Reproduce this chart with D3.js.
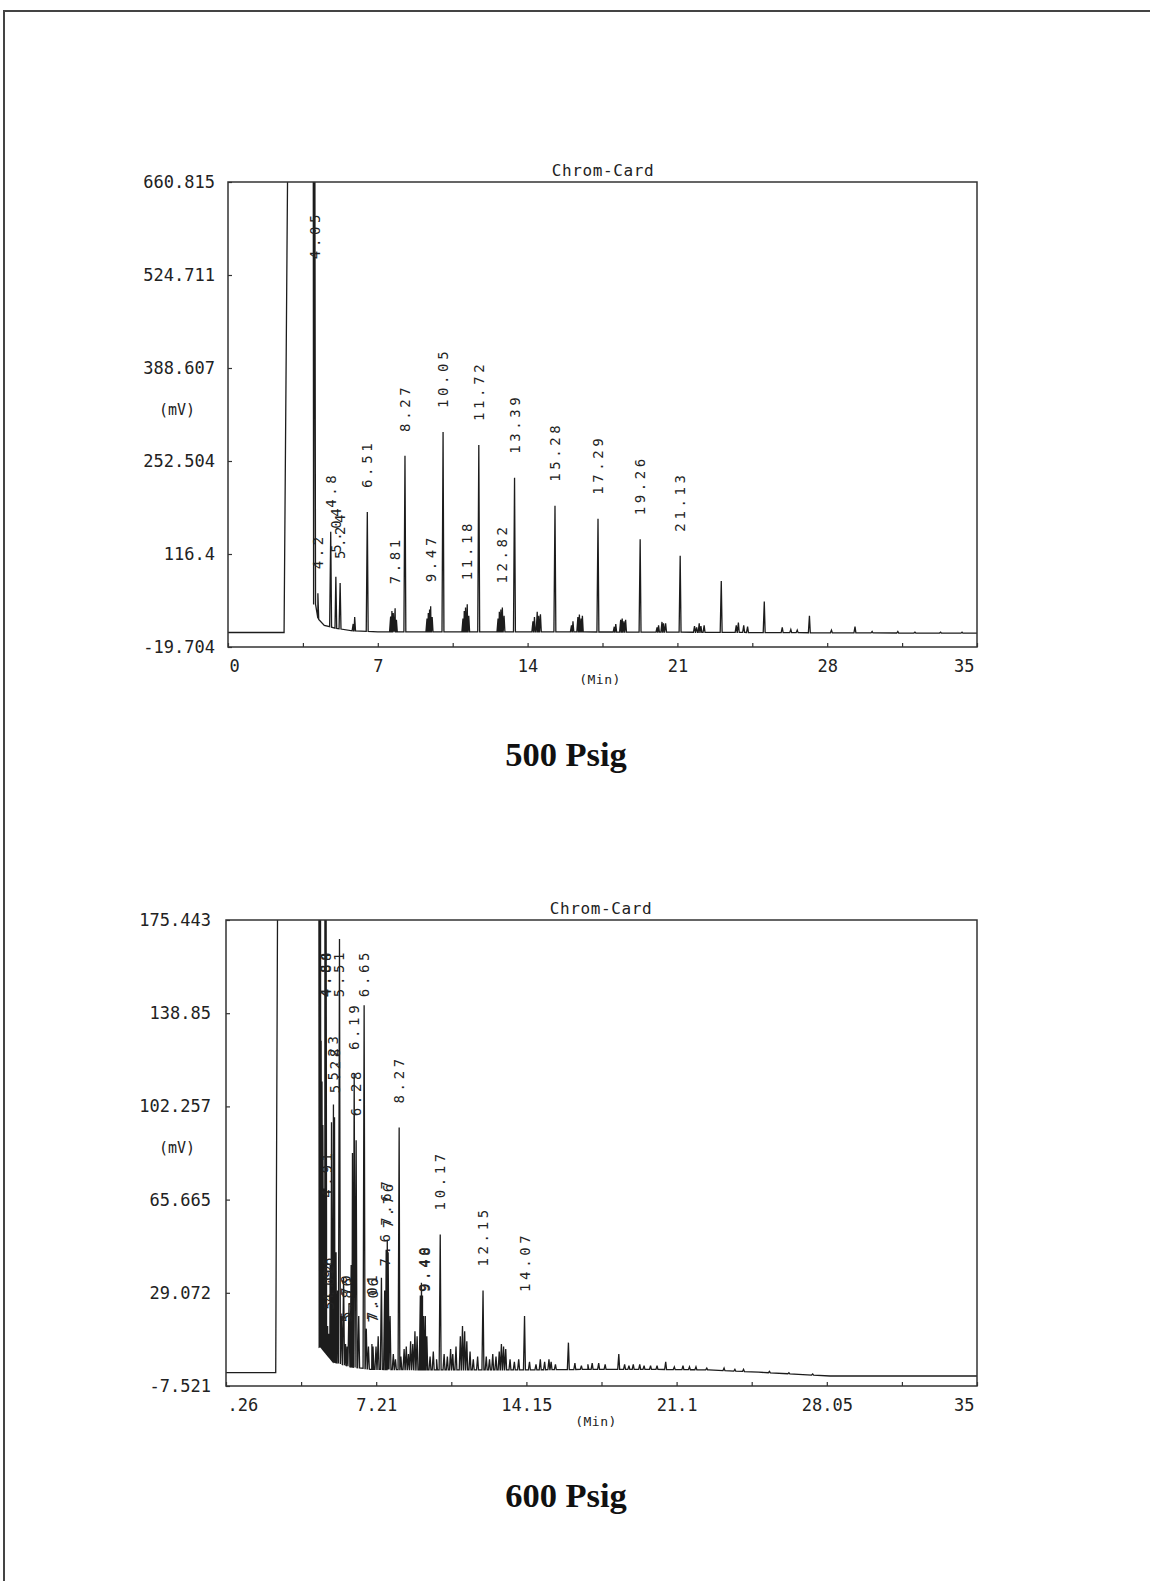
<!DOCTYPE html>
<html>
<head>
<meta charset="utf-8">
<script src="https://cdn.jsdelivr.net/npm/d3@7"></script>
<style>
  html, body { margin: 0; padding: 0; background: #fff; }
  svg { display: block; }
  .mono { font-family: "DejaVu Sans Mono", "Liberation Mono", monospace; fill: #222; }
  .caption { font-family: "Liberation Serif", "Times New Roman", serif; font-weight: bold; fill: #111; }
</style>
</head>
<body>
<svg id="page" width="1150" height="1581"></svg>
<script>
// ---------- 500 Psig run ----------
const xTicks500 = [0, 3.5, 7, 10.5, 14, 17.5, 21, 24.5, 28, 31.5, 35];
const xTickLabels500 = ["0", "7", "14", "21", "28", "35"];
const yTicks500 = [-19.704, 116.4, 252.504, 388.607, 524.711, 660.815];
const yTickLabels500 = ["-19.704", "116.4", "252.504", "388.607", "524.711", "660.815"];
// baseline drift [min, mV]
const baseline500 = [[0, 1.5], [2.6, 1.5], [4.08, 45], [4.2, 22], [4.5, 12], [5.0, 8], [5.8, 4],
  [7, 2.5], [14, 2.5], [21, 2], [28, 1], [35, 0.5]];
// solvent front, saturating the detector
const solvent500 = [[2.62, 1.5], [2.84, 900], [3.98, 900]];
// peaks [retention time (min), height (mV), printed label]
const peaks500 = [
  [4.05, 900, "4.05"], [4.2, 59, "4.2"], [4.8, 149, "4.8"], [5.04, 83, "5.04"], [5.24, 74, "5.24"],
  [5.85, 14], [5.92, 24], [6.51, 178, "6.51"],
  [7.6, 25], [7.66, 33], [7.72, 30], [7.81, 37, "7.81"], [7.87, 20],
  [8.27, 260, "8.27"],
  [9.3, 22], [9.36, 30], [9.42, 35], [9.47, 40, "9.47"], [9.54, 24],
  [10.05, 295, "10.05"],
  [10.98, 22], [11.04, 33], [11.1, 38], [11.18, 43, "11.18"], [11.25, 26],
  [11.72, 276, "11.72"],
  [12.62, 22], [12.68, 32], [12.75, 35], [12.82, 38, "12.82"], [12.9, 26],
  [13.39, 228, "13.39"],
  [14.25, 18], [14.32, 24], [14.45, 32], [14.52, 26], [14.6, 28],
  [15.28, 187, "15.28"],
  [16.05, 12], [16.12, 18], [16.35, 24], [16.42, 28], [16.5, 22], [16.56, 26],
  [17.29, 168, "17.29"],
  [18.05, 10], [18.12, 14], [18.35, 20], [18.42, 22], [18.5, 18], [18.58, 20],
  [19.26, 138, "19.26"],
  [20.05, 9], [20.12, 12], [20.28, 17], [20.35, 15], [20.45, 15],
  [21.13, 114, "21.13"],
  [21.8, 11], [21.9, 9], [22.02, 15], [22.1, 11], [22.25, 12],
  [23.05, 77],
  [23.75, 12], [23.85, 16], [24.1, 12], [24.28, 10],
  [25.06, 47],
  [25.9, 9], [26.3, 6], [26.6, 5],
  [27.17, 26],
  [28.2, 5], [29.3, 10], [30.1, 3], [31.3, 3], [32.1, 2], [33.3, 2], [34.3, 2]
];

// ---------- 600 Psig run ----------
const xTicks600 = [0.26, 3.734, 7.208, 10.682, 14.156, 17.63, 21.104, 24.578, 28.052, 31.526, 35];
const xTickLabels600 = [".26", "7.21", "14.15", "21.1", "28.05", "35"];
const yTicks600 = [-7.521, 29.072, 65.665, 102.257, 138.85, 175.443];
const yTickLabels600 = ["-7.521", "29.072", "65.665", "102.257", "138.85", "175.443"];
const baseline600 = [[0.26, -2.3], [2.5, -2.3], [4.62, 8], [5.2, 2], [6, 0], [7, -1], [10, -1.2],
  [14, -1.2], [17, -1], [20, -1], [22.6, -1.2], [24.9, -2.1], [28.2, -3.6], [35, -3.6]];
const solvent600 = [[2.56, -2.3], [2.7, 300], [4.55, 300]];
const peaks600 = [
  [4.62, 300], [4.66, 128], [4.7, 112], [4.74, 95], [4.78, 70],
  [4.84, 300, "4.84"], [4.88, 260, "4.88"], [4.91, 57, "4.91"], [4.96, 16, "4.96"], [5.02, 13, "5.02"],
  [5.08, 40], [5.14, 96], [5.23, 103, "5.23"], [5.28, 98, "5.28"], [5.35, 45], [5.42, 30],
  [5.51, 168, "5.51"], [5.6, 20], [5.7, 35], [5.79, 9, "5.79"], [5.86, 8, "5.86"], [5.95, 25], [6.05, 40],
  [6.11, 84], [6.19, 115, "6.19"], [6.28, 89, "6.28"], [6.4, 20],
  [6.65, 142, "6.65"], [6.75, 15], [6.85, 8], [7.01, 9, "7.01"], [7.06, 8, "7.06"], [7.2, 8], [7.3, 12],
  [7.45, 35], [7.6, 30, "7.6"], [7.67, 46, "7.67"], [7.72, 50], [7.76, 45, "7.76"], [7.85, 20],
  [8.0, 5], [8.1, 3], [8.27, 94, "8.27"], [8.35, 4], [8.5, 7], [8.6, 8], [8.7, 5], [8.8, 10], [8.9, 9],
  [9.0, 14], [9.1, 12],
  [9.25, 28], [9.3, 33], [9.35, 28], [9.4, 20, "9.40"], [9.48, 20, "9.48"], [9.55, 12],
  [9.7, 4], [9.85, 6], [10.0, 3],
  [10.17, 52, "10.17"],
  [10.35, 5], [10.5, 4], [10.65, 7], [10.75, 5], [10.9, 8],
  [11.1, 12], [11.2, 16], [11.3, 14], [11.4, 10], [11.55, 6], [11.7, 3], [11.9, 4],
  [12.15, 30, "12.15"],
  [12.3, 4], [12.45, 3], [12.6, 5], [12.75, 4], [12.9, 6], [13.0, 9], [13.1, 8], [13.2, 7],
  [13.4, 3], [13.6, 2], [13.8, 3],
  [14.07, 20, "14.07"],
  [14.3, 2], [14.6, 1], [14.8, 3], [15.0, 2], [15.2, 3], [15.3, 2], [15.5, 1],
  [16.1, 9.5], [16.4, 1.5], [16.7, 0.5], [17.0, 1], [17.2, 1.5], [17.5, 1.5], [17.8, 1],
  [18.43, 5], [18.7, 1], [18.9, 0.5], [19.1, 1], [19.4, 1], [19.6, 0.5], [19.9, 0.5], [20.2, 0.5],
  [20.6, 2], [21.0, 0], [21.4, 0.5], [21.7, 0], [22.0, 0], [22.5, -0.5], [23.3, -0.5], [23.8, -1],
  [24.2, -1], [25.4, -1.8], [26.3, -2.3], [27.4, -2.8]
];

const svg = d3.select("#page");

// page border
svg.append("path")
  .attr("d", "M4,1581V11H1150")
  .attr("fill", "none").attr("stroke", "#444").attr("stroke-width", 2);

function drawRun(cfg, id) {
  const x = d3.scaleLinear().domain(cfg.xDomain).range([cfg.left, cfg.right]);
  const y = d3.scaleLinear().domain(cfg.yDomain).range([cfg.bottom, cfg.top]);
  const foot = d3.scaleLinear().domain(cfg.baseline.map(d => d[0])).range(cfg.baseline.map(d => d[1])).clamp(true);

  // trace points: baseline + solvent front + one narrow spike per peak
  let pts = cfg.baseline.map(d => [d[0], d[1]])
    .filter(d => d[0] < cfg.solvent[0][0] || d[0] > cfg.peaks[0][0] + 0.03);
  pts = pts.concat(cfg.solvent);
  cfg.peaks.forEach(p => {
    const t = p[0], h = p[1];
    pts.push([t - 0.05, foot(t - 0.05)], [t, h], [t + 0.04, foot(t + 0.04)]);
  });
  pts.sort((a, b) => a[0] - b[0]);

  svg.append("clipPath").attr("id", id)
    .append("rect").attr("x", cfg.left).attr("y", cfg.top)
    .attr("width", cfg.right - cfg.left).attr("height", cfg.bottom - cfg.top);

  const line = d3.line().x(d => x(d[0])).y(d => y(d[1]));
  svg.append("path").datum(pts)
    .attr("clip-path", `url(#${id})`)
    .attr("d", line)
    .attr("fill", "none").attr("stroke", "#1c1c1c").attr("stroke-width", 1.3)
    .attr("stroke-linejoin", "miter");

  // frame
  svg.append("rect")
    .attr("x", cfg.left).attr("y", cfg.top)
    .attr("width", cfg.right - cfg.left).attr("height", cfg.bottom - cfg.top)
    .attr("fill", "none").attr("stroke", "#333").attr("stroke-width", 1.5);

  // axes
  const xAxis = d3.axisBottom(x).tickValues(cfg.xTicks).tickSize(-4).tickSizeOuter(0).tickPadding(13)
    .tickFormat((d, i) => i % 2 === 0 ? cfg.xTickLabels[i / 2] : "");
  const gx = svg.append("g").attr("transform", `translate(0,${cfg.bottom})`).call(xAxis);
  const yAxis = d3.axisLeft(y).tickValues(cfg.yTicks).tickSize(-4).tickSizeOuter(0).tickPadding(cfg.yPad)
    .tickFormat((d, i) => cfg.yTickLabels[i]);
  const gy = svg.append("g").attr("transform", `translate(${cfg.left},0)`).call(yAxis);
  [gx, gy].forEach(g => {
    g.select(".domain").remove();
    g.selectAll(".tick line").attr("stroke", "#333").attr("stroke-width", 1.2);
    g.selectAll("text").attr("class", "mono").style("font-size", "17px").attr("fill", "#222");
  });
  const xt = gx.selectAll(".tick text");
  const n = cfg.xTicks.length;
  xt.filter((d, i) => i === 0).attr("text-anchor", "start").attr("dx", 1);
  xt.filter((d, i) => i === n - 1).attr("text-anchor", "end").attr("dx", -3);

  // header and axis names
  svg.append("text").attr("class", "mono").attr("x", cfg.titleX).attr("y", cfg.top - 6)
    .attr("text-anchor", "middle").style("font-size", "16px").style("letter-spacing", "0.6px").text("Chrom-Card");
  svg.append("text").attr("class", "mono").attr("x", 177).attr("y", cfg.mvY)
    .attr("text-anchor", "middle").style("font-size", "15px").text("(mV)");
  svg.append("text").attr("class", "mono").attr("x", cfg.minX).attr("y", cfg.minY)
    .attr("text-anchor", "middle").style("font-size", "13px").style("letter-spacing", "0.5px").text("(Min)");

  // peak retention-time labels, written upward above each apex
  const lab = svg.append("g");
  cfg.peaks.filter(p => p[2]).forEach(p => {
    const t = lab.append("text").attr("class", "mono")
      .style("font-size", "14px").style("letter-spacing", "3.6px")
      .attr("text-anchor", "start").text(p[2]);
    const len = t.node().getComputedTextLength();
    let b = y(p[1]) - 24;
    if (b - len < cfg.top + 29) b = cfg.top + 29 + len;
    t.attr("transform", `translate(${x(p[0]) + 5},${b}) rotate(-90)`);
  });

  svg.append("text").attr("class", "caption").attr("x", 566).attr("y", cfg.captionY)
    .attr("text-anchor", "middle").style("font-size", "34.5px").text(cfg.caption);
}

drawRun({
  left: 228, right: 977, top: 182, bottom: 647, yPad: 13,
  xDomain: [0, 35], yDomain: [-19.704, 660.815],
  xTicks: xTicks500, xTickLabels: xTickLabels500, yTicks: yTicks500, yTickLabels: yTickLabels500,
  baseline: baseline500, solvent: solvent500, peaks: peaks500,
  titleX: 603, mvY: 415, minX: 600, minY: 684, captionY: 766, caption: "500 Psig"
}, "clip500");

drawRun({
  left: 226, right: 977, top: 920, bottom: 1386, yPad: 15,
  xDomain: [0.26, 35], yDomain: [-7.521, 175.443],
  xTicks: xTicks600, xTickLabels: xTickLabels600, yTicks: yTicks600, yTickLabels: yTickLabels600,
  baseline: baseline600, solvent: solvent600, peaks: peaks600,
  titleX: 601, mvY: 1153, minX: 596, minY: 1426, captionY: 1507, caption: "600 Psig"
}, "clip600");
</script>
</body>
</html>
